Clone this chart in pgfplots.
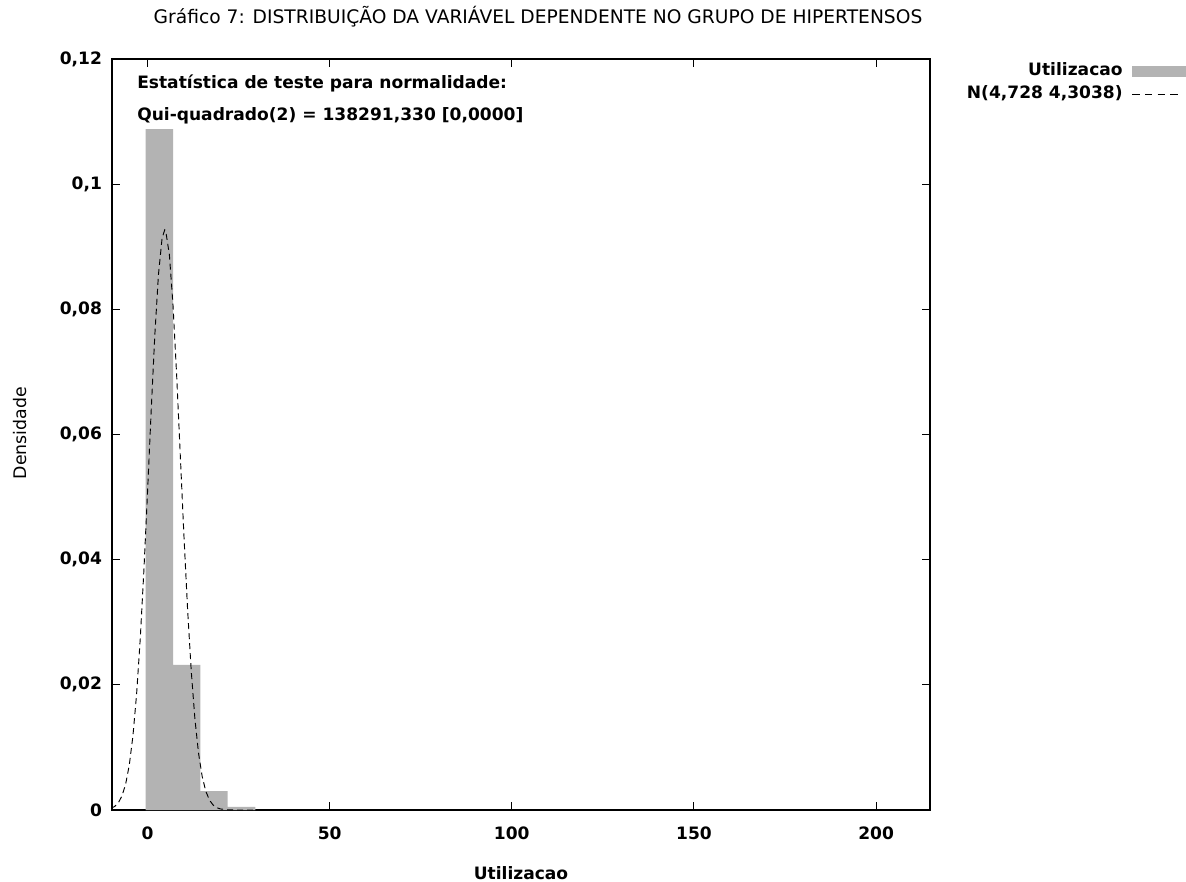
\documentclass[border=0pt]{standalone}
\usepackage{fontspec}
\setmainfont{DejaVu Sans}
\usepackage{pgfplots}
\pgfplotsset{compat=1.18}
\definecolor{bargray}{RGB}{179,179,179}
\newcommand\fs{\fontsize{12.8}{15}\selectfont}
\begin{document}
\begin{tikzpicture}
\path[use as bounding box] (0pt,0pt) rectangle (889.5pt,-661.5pt);
\begin{axis}[
  at={(84pt,-607.5pt)}, anchor=south west,
  scale only axis, width=613.5pt, height=563.25pt,
  xmin=-9.75, xmax=214.8, ymin=0, ymax=0.12,
  xtick={0,50,100,150,200},
  xticklabels={0,50,100,150,200},
  ytick={0,0.02,0.04,0.06,0.08,0.1,0.12},
  yticklabels={0,{0,02},{0,04},{0,06},{0,08},{0,1},{0,12}},
  tick align=inside,
  major tick length=6pt,
  tick style={black, line width=0.8pt},
  axis line style={line width=1pt},
  ticklabel style={font=\fs\bfseries},
  xticklabel style={yshift=-9pt},
  yticklabel style={xshift=-4pt},
  clip=true,
  legend plot pos=right,
  legend cell align=right,
  legend style={at={(1.31296,0.9947)}, anchor=north east, draw=none, fill=none,
    inner sep=0pt, row sep=4.5pt, font=\fs\bfseries,
    nodes={text height=9.5pt, text depth=3pt, inner sep=0pt},
    /tikz/every odd column/.append style={column sep=7pt}},
]
\addplot[fill=bargray, draw=none, const plot,
  legend image code/.code={\fill[bargray] (0pt,-4.2pt) rectangle (40pt,4.2pt);}]
  coordinates {(-0.5,0.1088) (7.0,0.0232) (14.5,0.0030) (22.0,0.0005) (29.6,0.0005)} \closedcycle;
\addlegendentry{Utilizacao}
\addplot[black, line width=0.7pt, dash pattern=on 4.5pt off 3pt,
  legend image code/.code={\draw[black, line width=0.7pt, dash pattern=on 5.5pt off 4pt] (0pt,0pt) -- (37.5pt,0pt);}]
  coordinates {
  (-10,0.000266) (-9,0.000572) (-8,0.001169) (-7,0.002262) (-6,0.004147)
  (-5,0.007206) (-4,0.01186) (-3,0.01849) (-2,0.02732) (-1,0.03823)
  (0,0.05071) (1,0.06371) (2,0.07583) (3,0.08553) (4,0.09138) (4.728,0.0927)
  (5,0.09251) (6,0.08874) (7,0.08065) (8,0.06943) (9,0.05664) (10,0.04378)
  (11,0.03206) (12,0.02224) (13,0.01462) (14,0.009105) (15,0.005373)
  (16,0.003003) (17,0.001591) (18,0.000798) (19,0.000379) (20,0.000171)
  (22,0.00003) (25,0) (214.8,0)};
\addlegendentry{N(4,728 4,3038)}
\end{axis}
\begin{scope}[x=0.75pt, y=-0.75pt]
\node[anchor=base, inner sep=0pt, font=\fontsize{14}{16}\selectfont] at (538,23)
  {Gráfico 7: DISTRIBUIÇÃO DA VARIÁVEL DEPENDENTE NO GRUPO DE HIPERTENSOS};
\node[anchor=base west, inner sep=0pt, font=\fs\bfseries] at (137,88)
  {Estatística de teste para normalidade:};
\node[anchor=base west, inner sep=0pt, font=\fs\bfseries] at (137,120)
  {Qui-quadrado(2) = 138291,330 [0,0000]};
\node[anchor=base, inner sep=0pt, font=\fs\bfseries] at (521,879) {Utilizacao};
\node[rotate=90, inner sep=0pt, font=\fontsize{13}{15}\selectfont] at (20.5,433) {Densidade};
\end{scope}
\end{tikzpicture}
\end{document}
